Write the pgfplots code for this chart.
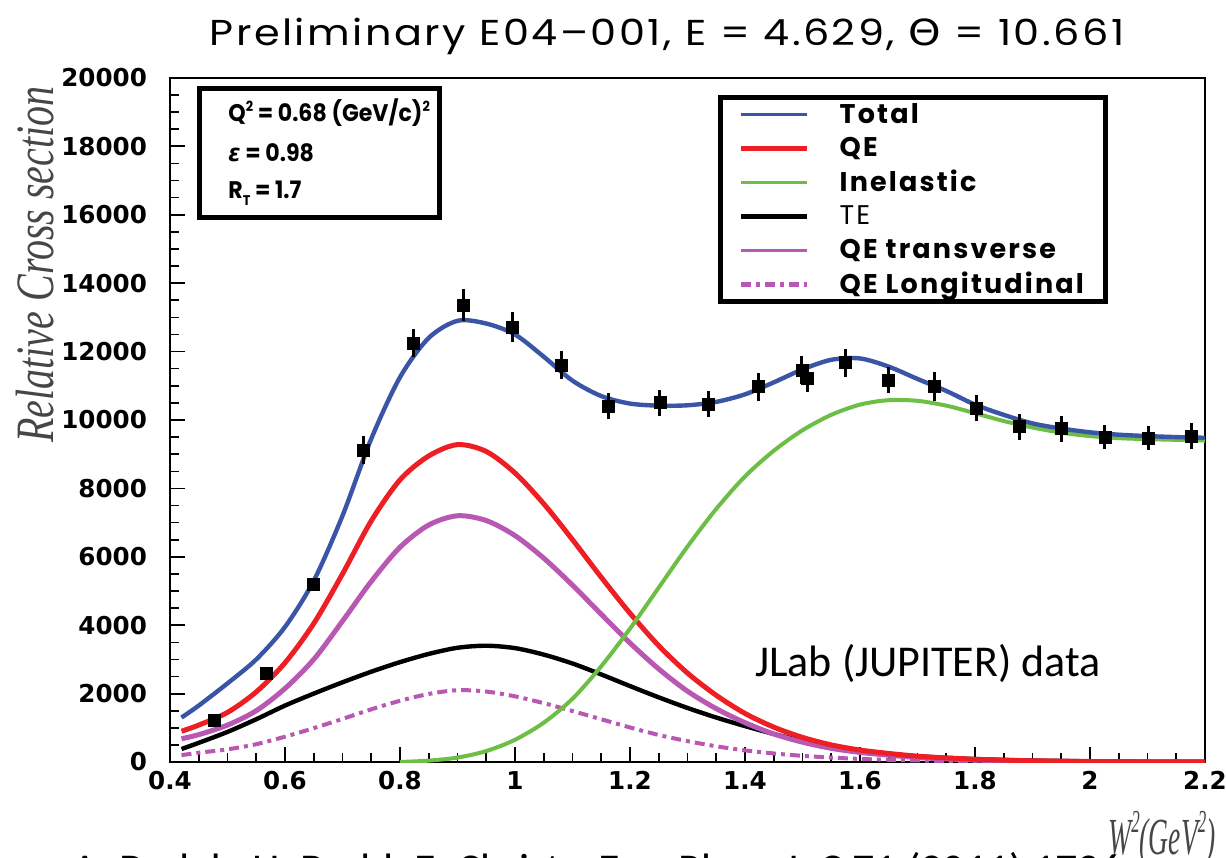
\documentclass[border=0pt]{standalone}
\usepackage{pgfplots}
\pgfplotsset{compat=1.18}
\usepackage{pgfplotstable}
\usepackage{fontspec}
\setmainfont{Poppins}
\newfontfamily\gothic{Poppins}
\newfontfamily\gothicwide{Poppins}[LetterSpace=8]
\newfontfamily\tickfont{DejaVu Sans}
\newfontfamily\serifit{Liberation Serif}
\newfontfamily\calib{Carlito}
\newfontfamily\symb{DejaVu Sans}

\definecolor{totalblue}{RGB}{58,84,166}
\definecolor{qered}{RGB}{237,30,36}
\definecolor{inelgreen}{RGB}{108,190,69}
\definecolor{qepurple}{RGB}{184,88,178}
\definecolor{labelgray}{RGB}{70,70,70}

% measured cross sections (x = W^2, y, stat. error)
\pgfplotstableread{
x      y      e
0.478  1230   150
0.567  2600   150
0.650  5200   180
0.736  9120   420
0.823  12250  420
0.910  13360  470
0.995  12720  430
1.080  11610  420
1.163  10410  380
1.252  10500  380
1.336  10470  380
1.423  10970  400
1.499  11460  420
1.508  11230  400
1.574  11670  420
1.649  11170  380
1.730  10970  420
1.802  10350  380
1.877  9800   380
1.951  9740   380
2.026  9500   350
2.101  9470   350
2.176  9530   380
}\datatbl

% model curves
\pgfplotstableread{
x     total  qe    tr    lo    te
0.42  1300   900   680   200   380
0.45  1650   1080  800   270   560
0.50  2300   1450  1080  370   880
0.55  3000   2050  1500  520   1250
0.60  3950   2900  2150  740   1650
0.65  5300   4050  3000  990   2000
0.70  7200   5500  4120  1260  2330
0.75  9450   7050  5280  1540  2640
0.80  11250  8250  6280  1790  2920
0.85  12400  8950  6930  1990  3160
0.90  12900  9280  7200  2100  3340
0.95  12820  9080  7060  2060  3400
1.00  12500  8450  6620  1920  3330
1.05  11850  7550  5960  1720  3140
1.10  11150  6500  5170  1490  2880
1.15  10700  5400  4320  1250  2560
1.20  10480  4350  3480  1010  2220
1.25  10420  3400  2720  790   1890
1.30  10430  2600  2070  610   1580
1.35  10530  1950  1560  460   1300
1.40  10750  1420  1150  340   1050
1.45  11100  1020  820   250   820
1.50  11480  720   580   180   620
1.55  11760  500   400   130   450
1.60  11800  350   280   90    320
1.65  11560  250   200   65    230
1.70  11200  170   130   45    165
1.75  10850  120   90    30    120
1.80  10450  80    60    20    85
1.85  10150  55    40    13    60
1.90  9900   35    25    8     42
1.95  9750   25    15    5     30
2.00  9640   15    10    3     20
2.05  9570   10    6     2     14
2.10  9530   6     4     1     9
2.15  9500   3     2     0     5
2.20  9480   0     0     0     3
}\modeltbl

\pgfplotstableread{
x     inel
0.80  0
0.85  40
0.90  130
0.95  320
1.00  650
1.05  1150
1.10  1850
1.15  2800
1.20  3900
1.25  5100
1.30  6300
1.35  7400
1.40  8350
1.45  9100
1.50  9700
1.55  10150
1.60  10450
1.65  10580
1.70  10560
1.75  10420
1.80  10200
1.85  9970
1.90  9780
1.95  9630
2.00  9530
2.05  9470
2.10  9440
2.20  9400
}\ineltbl

\begin{document}
\begin{tikzpicture}
\begin{axis}[
  at={(0,0)}, anchor=south west,
  scale only axis, width=517.5pt, height=342pt,
  xmin=0.4, xmax=2.2, ymin=0, ymax=20000,
  xtick={0.4,0.6,0.8,1,1.2,1.4,1.6,1.8,2,2.2},
  ytick={0,2000,4000,6000,8000,10000,12000,14000,16000,18000,20000},
  minor x tick num=3, minor y tick num=3,
  tick align=inside, tick pos=left,
  major tick length=7.5pt, minor tick length=4.5pt,
  major tick style={black, line width=0.9pt},
  minor tick style={black, line width=0.8pt},
  axis line style={black, line width=1.2pt},
  scaled y ticks=false, scaled x ticks=false,
  /pgf/number format/assume math mode=true,
  yticklabel style={/pgf/number format/.cd, fixed, 1000 sep={}, /tikz/.cd, xshift=-8pt},
  xticklabel style={/pgf/number format/.cd, fixed, precision=1, /tikz/.cd, yshift=-1pt},
  ticklabel style={font=\tickfont\bfseries\fontsize{12.3}{14}\selectfont},
  legend cell align=left,
  legend image code/.code={\draw[#1] (0pt,0pt) -- (33pt,0pt);},
  legend style={at={(rel axis cs:0.5295,0.975)}, anchor=north west,
    draw=black, line width=2.5pt, fill=white,
    font=\gothicwide\bfseries\fontsize{13.5}{16}\selectfont,
    inner xsep=9pt, inner ysep=0pt, row sep=0pt,
    nodes={inner ysep=0pt, minimum height=17pt},
    /tikz/every odd column/.append style={column sep=13pt}},
]
\addlegendimage{totalblue, line width=1.6pt}\addlegendentry{Total}
\addlegendimage{qered, line width=2.6pt}\addlegendentry{QE}
\addlegendimage{inelgreen, line width=1.6pt}\addlegendentry{Inelastic}
\addlegendimage{black, line width=2.6pt}\addlegendentry{\mdseries TE}
\addlegendimage{qepurple, line width=1.6pt}\addlegendentry{QE transverse}
\addlegendimage{qepurple, line width=2.6pt, dash pattern=on 5pt off 2.5pt on 2pt off 2.5pt}\addlegendentry{QE Longitudinal}

\addplot[forget plot, qepurple, line width=2pt, smooth, dash pattern=on 5pt off 2.5pt on 2pt off 2.5pt] table[x=x, y=lo] {\modeltbl};
\addplot[forget plot, black, line width=2.2pt, smooth] table[x=x, y=te] {\modeltbl};
\addplot[forget plot, qepurple, line width=2.5pt, smooth] table[x=x, y=tr] {\modeltbl};
\addplot[forget plot, qered, line width=2.5pt, smooth] table[x=x, y=qe] {\modeltbl};
\addplot[forget plot, inelgreen, line width=2pt, smooth] table[x=x, y=inel] {\ineltbl};
\addplot[forget plot, totalblue, line width=2.2pt, smooth] table[x=x, y=total] {\modeltbl};
\addplot[forget plot, only marks, mark=square*, mark size=3pt, black,
  error bars/.cd, y dir=both, y explicit, error mark=none,
  error bar style={line width=1.5pt, black}]
  table[x=x, y=y, y error=e] {\datatbl};
\end{axis}

% kinematics box
\node[draw=black, line width=2.5pt, anchor=north west, minimum width=120pt, minimum height=64.5pt, inner sep=0pt] at (13.5pt,338pt) {};
\begin{scope}[every node/.style={anchor=west, inner sep=0pt, font=\gothic\bfseries\fontsize{12}{14}\selectfont}]
\node at (29pt,324.5pt) {\scalebox{0.92}[1]{Q\raisebox{0.8ex}{\fontsize{7}{8}\selectfont 2} = 0.68 (GeV/c)\raisebox{0.8ex}{\fontsize{7}{8}\selectfont 2}}};
\node at (29pt,304.5pt) {\scalebox{0.92}[1]{{\symb\bfseries\itshape ε} = 0.98}};
\node at (29pt,284.5pt) {\scalebox{0.92}[1]{R\raisebox{-0.5ex}{\fontsize{7}{8}\selectfont T} = 1.7}};
\end{scope}

% title
\node[font=\gothic\fontsize{18}{21}\selectfont] at (248.5pt,363pt) {\scalebox{1.15}[1]{\addfontfeatures{LetterSpace=6}Preliminary E04–001, E = 4.629, {\symb Θ} = 10.661}};

% axis titles
\node[rotate=90, anchor=south east, text=labelgray, inner sep=0pt] at (-58pt,338pt) {\scalebox{1}[1.35]{\serifit\itshape\fontsize{20}{24}\selectfont Relative Cross section}};
\node[anchor=base east, text=labelgray, inner sep=0pt] at (523pt,-46pt) {\scalebox{0.53}[1]{\serifit\itshape\fontsize{26}{30}\selectfont W\raisebox{0.9ex}{\fontsize{16}{18}\selectfont 2}(GeV\raisebox{0.9ex}{\fontsize{16}{18}\selectfont 2})}};

% annotations
\node[anchor=base west, inner sep=0pt, font=\calib\fontsize{22}{26}\selectfont] at (292.5pt,43pt) {JLab (JUPITER) data};
\node[anchor=base west, inner sep=0pt, font=\calib\fontsize{22}{26}\selectfont] at (-49pt,-61pt) {A. Bodek, H. Budd, E. Christy, Eur. Phys. J. C 71 (2011) 1726};

\pgfresetboundingbox
\path[use as bounding box] (-85pt,-47.5pt) rectangle (528pt,381pt);
\end{tikzpicture}
\end{document}
